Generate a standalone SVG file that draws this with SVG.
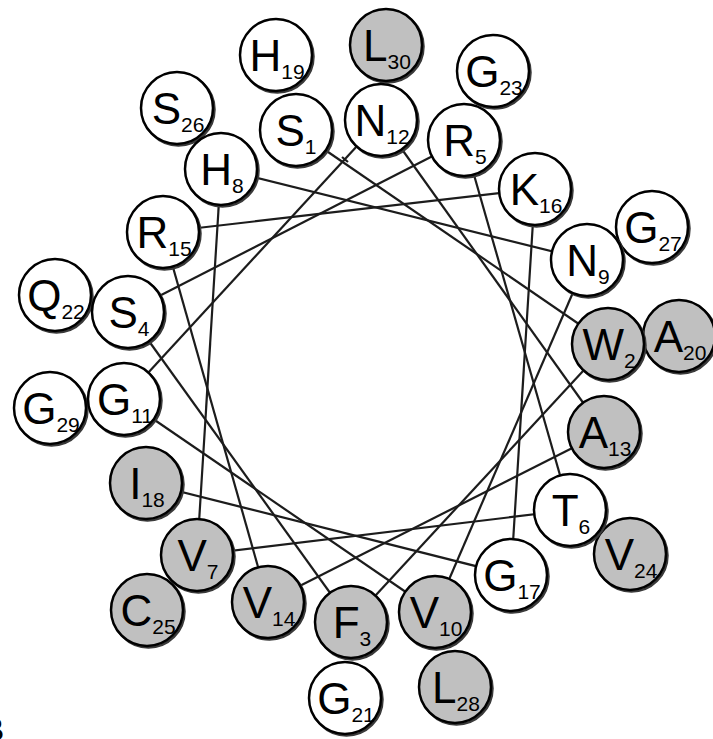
<svg xmlns="http://www.w3.org/2000/svg" width="713" height="739" viewBox="0 0 713 739">
<style>
.sh{fill:none;stroke:#3a3a3a;stroke-width:2.5}
.w{fill:#ffffff;stroke:#000;stroke-width:2.5}
.g{fill:#c0c0c0;stroke:#000;stroke-width:2.5}
.t{font-family:"Liberation Sans",Arial,sans-serif;font-size:44px;fill:#000;text-anchor:middle}
.s{font-size:21px}
#links line{stroke:#1c1c1c;stroke-width:2.2;fill:none}
</style>
<rect width="713" height="739" fill="#fff"/>
<g id="links">
<line x1="296" y1="130" x2="608" y2="344"/>
<line x1="608" y1="344" x2="351" y2="622"/>
<line x1="351" y1="622" x2="128" y2="312"/>
<line x1="128" y1="312" x2="464" y2="140"/>
<line x1="464" y1="140" x2="570" y2="510"/>
<line x1="570" y1="510" x2="197" y2="555"/>
<line x1="197" y1="555" x2="221" y2="169"/>
<line x1="221" y1="169" x2="587" y2="260"/>
<line x1="587" y1="260" x2="435" y2="612"/>
<line x1="435" y1="612" x2="124" y2="399"/>
<line x1="124" y1="399" x2="381" y2="120"/>
<line x1="381" y1="120" x2="604" y2="432"/>
<line x1="604" y1="432" x2="268" y2="602"/>
<line x1="268" y1="602" x2="163" y2="232"/>
<line x1="163" y1="232" x2="535" y2="189"/>
<line x1="535" y1="189" x2="511" y2="575"/>
<line x1="511" y1="575" x2="146" y2="483"/>
<line x1="342" y1="157" x2="348" y2="162"/>
</g>
<g id="r19"><circle class="sh" cx="277.5" cy="56.5" r="36"/><circle class="w" cx="276" cy="55" r="36"/><text class="t" x="277" y="71">H<tspan class="s" dy="8">19</tspan></text></g>
<g id="r30"><circle class="sh" cx="387.5" cy="46.5" r="36"/><circle class="g" cx="386" cy="45" r="36"/><text class="t" x="387" y="61">L<tspan class="s" dy="8">30</tspan></text></g>
<g id="r23"><circle class="sh" cx="494.5" cy="72.5" r="36"/><circle class="w" cx="493" cy="71" r="36"/><text class="t" x="494" y="87">G<tspan class="s" dy="8">23</tspan></text></g>
<g id="r26"><circle class="sh" cx="178.5" cy="109.5" r="36"/><circle class="w" cx="177" cy="108" r="36"/><text class="t" x="178" y="124">S<tspan class="s" dy="8">26</tspan></text></g>
<g id="r27"><circle class="sh" cx="653.5" cy="228.5" r="36"/><circle class="w" cx="652" cy="227" r="36"/><text class="t" x="653" y="243">G<tspan class="s" dy="8">27</tspan></text></g>
<g id="r22"><circle class="sh" cx="56.5" cy="296.5" r="36"/><circle class="w" cx="55" cy="295" r="36"/><text class="t" x="56" y="311">Q<tspan class="s" dy="8">22</tspan></text></g>
<g id="r20"><circle class="sh" cx="680.5" cy="337.5" r="36"/><circle class="g" cx="679" cy="336" r="36"/><text class="t" x="680" y="352">A<tspan class="s" dy="8">20</tspan></text></g>
<g id="r29"><circle class="sh" cx="51.5" cy="409.5" r="36"/><circle class="w" cx="50" cy="408" r="36"/><text class="t" x="51" y="424">G<tspan class="s" dy="8">29</tspan></text></g>
<g id="r24"><circle class="sh" cx="631.5" cy="555.5" r="36"/><circle class="g" cx="630" cy="554" r="36"/><text class="t" x="631" y="570">V<tspan class="s" dy="8">24</tspan></text></g>
<g id="r25"><circle class="sh" cx="148.5" cy="611.5" r="36"/><circle class="g" cx="147" cy="610" r="36"/><text class="t" x="148" y="626">C<tspan class="s" dy="8">25</tspan></text></g>
<g id="r28"><circle class="sh" cx="456.5" cy="688.5" r="36"/><circle class="g" cx="455" cy="687" r="36"/><text class="t" x="456" y="703">L<tspan class="s" dy="8">28</tspan></text></g>
<g id="r21"><circle class="sh" cx="346.5" cy="699.5" r="36"/><circle class="w" cx="345" cy="698" r="36"/><text class="t" x="346" y="714">G<tspan class="s" dy="8">21</tspan></text></g>
<g id="r1"><circle class="sh" cx="297.5" cy="131.5" r="36"/><circle class="w" cx="296" cy="130" r="36"/><text class="t" x="296" y="146">S<tspan class="s" dy="8">1</tspan></text></g>
<g id="r12"><circle class="sh" cx="382.5" cy="121.5" r="36"/><circle class="w" cx="381" cy="120" r="36"/><text class="t" x="382" y="136">N<tspan class="s" dy="8">12</tspan></text></g>
<g id="r5"><circle class="sh" cx="465.5" cy="141.5" r="36"/><circle class="w" cx="464" cy="140" r="36"/><text class="t" x="465" y="156">R<tspan class="s" dy="8">5</tspan></text></g>
<g id="r8"><circle class="sh" cx="222.5" cy="170.5" r="36"/><circle class="w" cx="221" cy="169" r="36"/><text class="t" x="222" y="185">H<tspan class="s" dy="8">8</tspan></text></g>
<g id="r16"><circle class="sh" cx="536.5" cy="190.5" r="36"/><circle class="w" cx="535" cy="189" r="36"/><text class="t" x="536" y="205">K<tspan class="s" dy="8">16</tspan></text></g>
<g id="r15"><circle class="sh" cx="164.5" cy="233.5" r="36"/><circle class="w" cx="163" cy="232" r="36"/><text class="t" x="164" y="248">R<tspan class="s" dy="8">15</tspan></text></g>
<g id="r9"><circle class="sh" cx="588.5" cy="261.5" r="36"/><circle class="w" cx="587" cy="260" r="36"/><text class="t" x="588" y="276">N<tspan class="s" dy="8">9</tspan></text></g>
<g id="r4"><circle class="sh" cx="129.5" cy="313.5" r="36"/><circle class="w" cx="128" cy="312" r="36"/><text class="t" x="129" y="328">S<tspan class="s" dy="8">4</tspan></text></g>
<g id="r2"><circle class="sh" cx="609.5" cy="345.5" r="36"/><circle class="g" cx="608" cy="344" r="36"/><text class="t" x="609" y="360">W<tspan class="s" dy="8">2</tspan></text></g>
<g id="r11"><circle class="sh" cx="125.5" cy="400.5" r="36"/><circle class="w" cx="124" cy="399" r="36"/><text class="t" x="125" y="415">G<tspan class="s" dy="8">11</tspan></text></g>
<g id="r13"><circle class="sh" cx="605.5" cy="433.5" r="36"/><circle class="g" cx="604" cy="432" r="36"/><text class="t" x="605" y="448">A<tspan class="s" dy="8">13</tspan></text></g>
<g id="r18"><circle class="sh" cx="147.5" cy="484.5" r="36"/><circle class="g" cx="146" cy="483" r="36"/><text class="t" x="147" y="499">I<tspan class="s" dy="8">18</tspan></text></g>
<g id="r6"><circle class="sh" cx="571.5" cy="511.5" r="36"/><circle class="w" cx="570" cy="510" r="36"/><text class="t" x="571" y="526">T<tspan class="s" dy="8">6</tspan></text></g>
<g id="r7"><circle class="sh" cx="198.5" cy="556.5" r="36"/><circle class="g" cx="197" cy="555" r="36"/><text class="t" x="198" y="571">V<tspan class="s" dy="8">7</tspan></text></g>
<g id="r17"><circle class="sh" cx="512.5" cy="576.5" r="36"/><circle class="w" cx="511" cy="575" r="36"/><text class="t" x="512" y="591">G<tspan class="s" dy="8">17</tspan></text></g>
<g id="r14"><circle class="sh" cx="269.5" cy="603.5" r="36"/><circle class="g" cx="268" cy="602" r="36"/><text class="t" x="269" y="618">V<tspan class="s" dy="8">14</tspan></text></g>
<g id="r10"><circle class="sh" cx="436.5" cy="613.5" r="36"/><circle class="g" cx="435" cy="612" r="36"/><text class="t" x="436" y="628">V<tspan class="s" dy="8">10</tspan></text></g>
<g id="r3"><circle class="sh" cx="352.5" cy="623.5" r="36"/><circle class="g" cx="351" cy="622" r="36"/><text class="t" x="352" y="638">F<tspan class="s" dy="8">3</tspan></text></g>
<text x="4" y="741" font-family="Liberation Sans, Arial, sans-serif" font-size="34" font-weight="bold" text-anchor="end">B</text>
</svg>
